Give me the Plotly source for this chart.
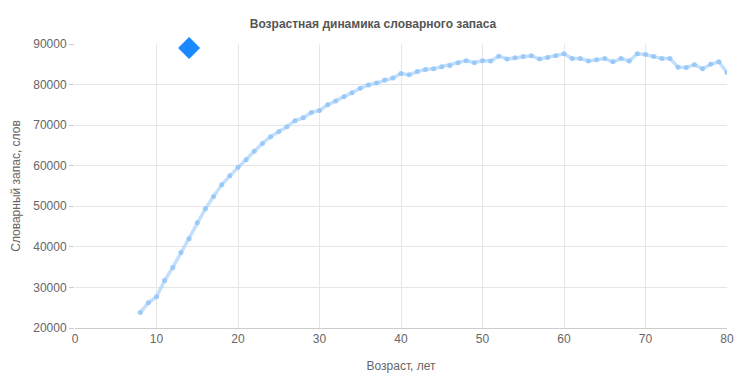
import plotly.graph_objects as go

ages = list(range(8, 81))
vocab = [23800, 26200, 27700, 31700, 34900, 38600, 42000, 45950, 49400, 52400,
         55300, 57500, 59600, 61500, 63550, 65500, 67150, 68400, 69600, 71100,
         71800, 73100, 73600, 75000, 75950, 77000, 78000, 79100, 79900, 80400,
         81100, 81600, 82700, 82400, 83200, 83700, 83900, 84400, 84700, 85400,
         85900, 85400, 85900, 85800, 87000, 86300, 86600, 86900, 87100, 86300,
         86700, 87100, 87600, 86400, 86400, 85800, 86100, 86400, 85600, 86400,
         85800, 87600, 87400, 86900, 86400, 86400, 84300, 84200, 84900, 83900,
         85000, 85600, 83000]
highlight_age = [14]
highlight_val = [89000]

title_text = "Возрастная динамика словарного запаса"
x_title = "Возраст, лет"
y_title = "Словарный запас, слов"

fig = go.Figure()
fig.add_trace(go.Scatter(
    x=ages, y=vocab, mode="lines+markers",
    line=dict(color="rgba(170,210,250,0.7)", width=3.5),
    marker=dict(color="rgba(145,198,248,0.85)", size=5),
    showlegend=False, hoverinfo="x+y"))
fig.add_trace(go.Scatter(
    x=highlight_age, y=highlight_val, mode="markers", cliponaxis=False,
    marker=dict(color="#1a88ff", size=17, symbol="diamond"),
    showlegend=False))

fig.update_layout(
    width=746, height=383,
    margin=dict(l=75, r=15, t=44, b=55),
    paper_bgcolor="white", plot_bgcolor="white",
    font=dict(family="Liberation Sans, Arial, sans-serif", size=12, color="#666"),
    title=dict(text="<b>" + title_text + "</b>", x=0.5, xanchor="center",
               y=1 - 24 / 383, yanchor="middle",
               font=dict(size=12, color="#555")),
    xaxis=dict(range=[0, 80], dtick=10, tick0=0, showgrid=True, gridcolor="#e6e6e6",
               zeroline=False, showline=True, linecolor="#ccc", ticks="",
               title=dict(text=x_title, standoff=16, font=dict(size=12, color="#666")),
               fixedrange=True),
    yaxis=dict(range=[20000, 90000], dtick=10000, showgrid=True, gridcolor="#e6e6e6",
               zeroline=False, showline=False, ticks="outside", ticklen=5,
               tickcolor="#ccc", tickformat="d",
               title=dict(text=y_title, standoff=10, font=dict(size=12, color="#666")),
               fixedrange=True),
)

fig.write_html("out.html")
